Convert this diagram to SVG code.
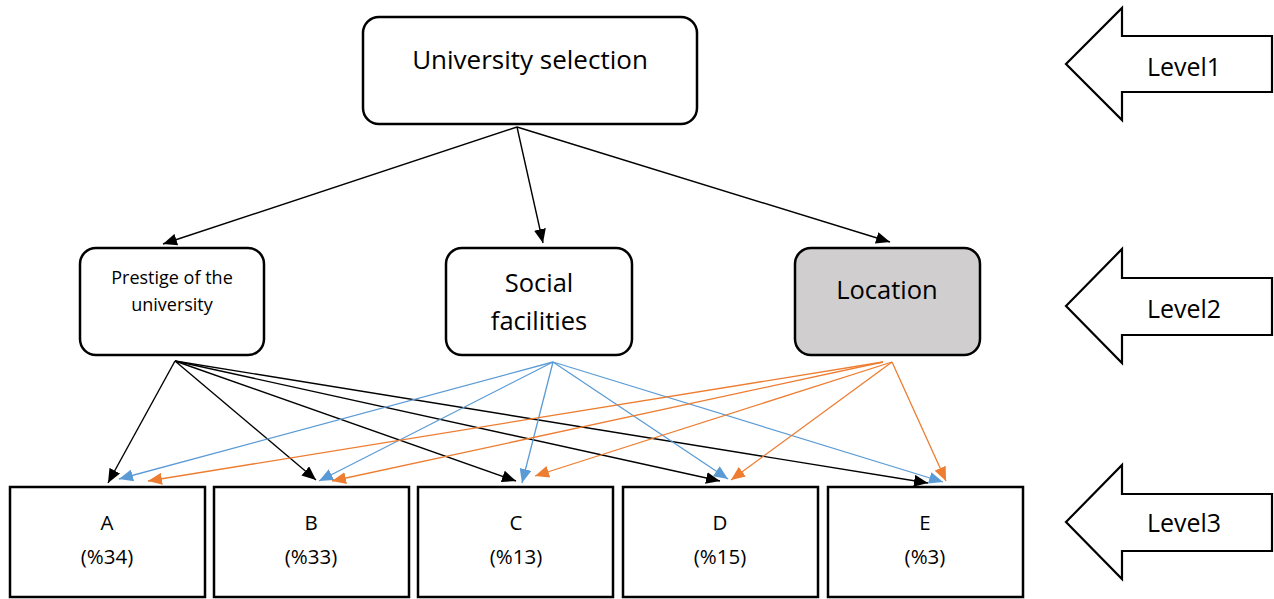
<svg xmlns="http://www.w3.org/2000/svg" width="1274" height="599" viewBox="0 0 1274 599">
<style>
.box{fill:#fff;stroke:#000;stroke-width:2.5}
.gray{fill:#d0cece;stroke:#000;stroke-width:2.5}
.lvl{fill:#fff;stroke:#000;stroke-width:2.2;stroke-linejoin:miter}
text{font-family:"Open Sans","Liberation Sans",sans-serif;fill:#000;text-anchor:middle}
.big{font-size:25.5px}
.top{font-size:26px}
.small{font-size:18px}
.leaf{font-size:20.5px}
.lt{font-size:25px}
.k{stroke:#000;stroke-width:1.4;fill:none}
.b{stroke:#5b9bd5;stroke-width:1.3;fill:none}
.o{stroke:#ed7d31;stroke-width:1.3;fill:none}
</style>
<defs>
<marker id="mk" viewBox="0 0 14 12" refX="14" refY="6" markerWidth="14" markerHeight="12" markerUnits="userSpaceOnUse" orient="auto"><path d="M0,0 L14,6 L0,12 Z" fill="#000"/></marker>
<marker id="mb" viewBox="0 0 14 12" refX="14" refY="6" markerWidth="14" markerHeight="12" markerUnits="userSpaceOnUse" orient="auto"><path d="M0,0 L14,6 L0,12 Z" fill="#5b9bd5"/></marker>
<marker id="mo" viewBox="0 0 14 12" refX="14" refY="6" markerWidth="14" markerHeight="12" markerUnits="userSpaceOnUse" orient="auto"><path d="M0,0 L14,6 L0,12 Z" fill="#ed7d31"/></marker>
</defs>
<rect width="1274" height="599" fill="#fff"/>

<g id="connectors">
<line class="k" x1="517" y1="127" x2="163" y2="244" marker-end="url(#mk)"/>
<line class="k" x1="517" y1="127" x2="543" y2="243" marker-end="url(#mk)"/>
<line class="k" x1="517" y1="127" x2="890" y2="242" marker-end="url(#mk)"/>

<line class="k" x1="175" y1="361" x2="108" y2="483" marker-end="url(#mk)"/>
<line class="k" x1="175" y1="361" x2="316" y2="480" marker-end="url(#mk)"/>
<line class="k" x1="175" y1="361" x2="516" y2="481" marker-end="url(#mk)"/>
<line class="k" x1="175" y1="361" x2="720" y2="481" marker-end="url(#mk)"/>
<line class="k" x1="175" y1="361" x2="928" y2="483" marker-end="url(#mk)"/>

<line class="b" x1="553" y1="362" x2="119" y2="479" marker-end="url(#mb)"/>
<line class="b" x1="553" y1="362" x2="319" y2="481" marker-end="url(#mb)"/>
<line class="b" x1="553" y1="362" x2="522" y2="483" marker-end="url(#mb)"/>
<line class="b" x1="553" y1="362" x2="728" y2="479" marker-end="url(#mb)"/>
<line class="b" x1="553" y1="362" x2="943" y2="482" marker-end="url(#mb)"/>

<line class="o" x1="883" y1="362" x2="148" y2="481" marker-end="url(#mo)"/>
<line class="o" x1="883" y1="362" x2="332" y2="481" marker-end="url(#mo)"/>
<line class="o" x1="892" y1="362" x2="535" y2="476" marker-end="url(#mo)"/>
<line class="o" x1="892" y1="362" x2="731" y2="480" marker-end="url(#mo)"/>
<line class="o" x1="892" y1="362" x2="946" y2="481" marker-end="url(#mo)"/>
</g>

<g id="n-university">
<rect class="box" x="363" y="17" width="334" height="107" rx="16"/>
<text class="top" x="530" y="69">University selection</text>
</g>
<g id="n-prestige">
<rect class="box" x="80" y="248" width="184" height="107" rx="16"/>
<text class="small" x="172" y="284">Prestige of the</text>
<text class="small" x="172" y="311">university</text>
</g>
<g id="n-social">
<rect class="box" x="446" y="248" width="186" height="107" rx="16"/>
<text class="big" x="539" y="292">Social</text>
<text class="big" x="539" y="330">facilities</text>
</g>
<g id="n-location">
<rect class="gray" x="795" y="248" width="185" height="107" rx="16"/>
<text class="big" x="887" y="299">Location</text>
</g>

<g id="n-a">
<rect class="box" x="10" y="487" width="195" height="110"/>
<text class="leaf" x="107" y="530">A</text>
<text class="leaf" x="107" y="564">(%34)</text>
</g>
<g id="n-b">
<rect class="box" x="214" y="487" width="195" height="110"/>
<text class="leaf" x="311" y="530">B</text>
<text class="leaf" x="311" y="564">(%33)</text>
</g>
<g id="n-c">
<rect class="box" x="418" y="487" width="195" height="110"/>
<text class="leaf" x="516" y="530">C</text>
<text class="leaf" x="516" y="564">(%13)</text>
</g>
<g id="n-d">
<rect class="box" x="623" y="487" width="195" height="110"/>
<text class="leaf" x="720" y="530">D</text>
<text class="leaf" x="720" y="564">(%15)</text>
</g>
<g id="n-e">
<rect class="box" x="828" y="487" width="195" height="110"/>
<text class="leaf" x="925" y="530">E</text>
<text class="leaf" x="925" y="564">(%3)</text>
</g>

<g id="level1">
<polygon class="lvl" points="1066,64 1122,8 1122,36 1272,36 1272,92 1122,92 1122,120"/>
<text class="lt" x="1184" y="76">Level1</text>
</g>
<g id="level2">
<polygon class="lvl" points="1066,306 1122,249 1122,278 1272,278 1272,335 1122,335 1122,363"/>
<text class="lt" x="1184" y="318">Level2</text>
</g>
<g id="level3">
<polygon class="lvl" points="1066,522 1122,465 1122,494 1272,494 1272,551 1122,551 1122,579"/>
<text class="lt" x="1184" y="532">Level3</text>
</g>
</svg>
